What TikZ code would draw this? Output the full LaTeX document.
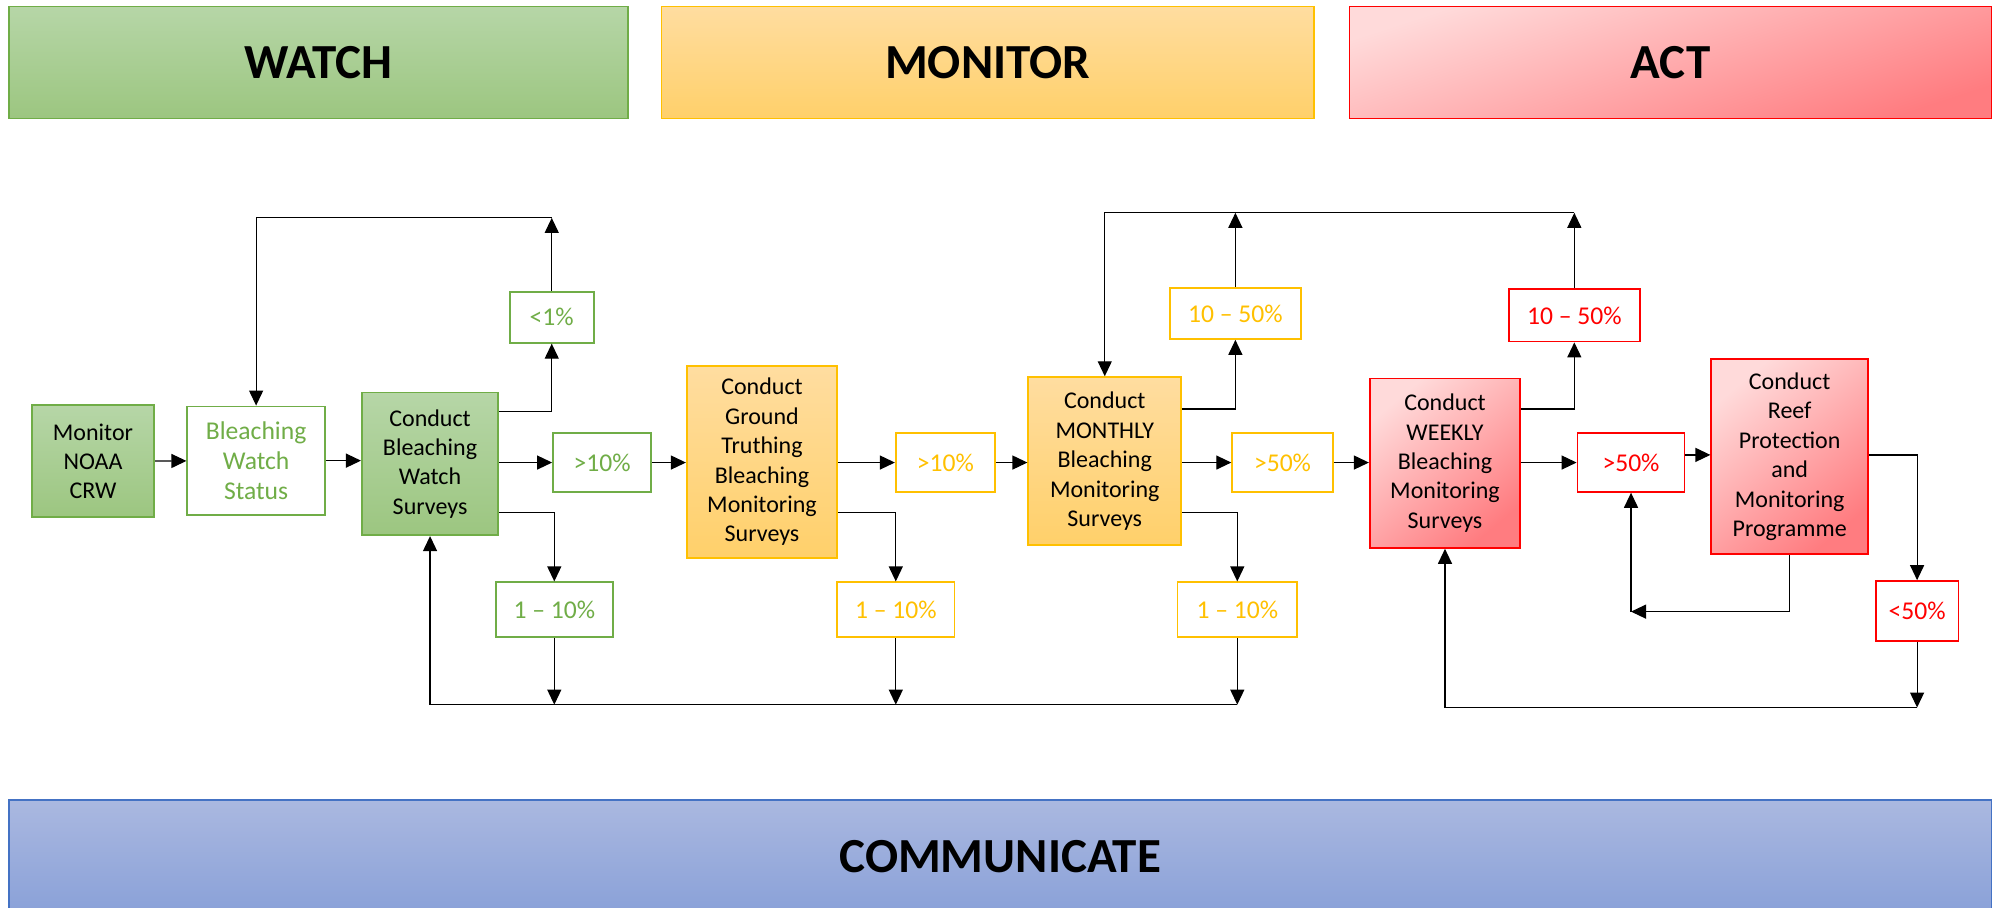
\documentclass[tikz,border=0pt]{standalone}
\usepackage{fontspec}
\setmainfont{Carlito}
\usetikzlibrary{arrows.meta}
\definecolor{gD}{HTML}{70AD47}
\definecolor{gT}{HTML}{B6D6A7}
\definecolor{gB}{HTML}{9CC680}
\definecolor{yD}{HTML}{FFC000}
\definecolor{yT}{HTML}{FFDDA0}
\definecolor{yB}{HTML}{FFD06A}
\definecolor{rD}{HTML}{FF0000}
\definecolor{rT}{HTML}{FFDADA}
\definecolor{rB}{HTML}{FF7C80}
\definecolor{bD}{HTML}{4472C4}
\definecolor{bT}{HTML}{AAB8E0}
\definecolor{bB}{HTML}{8AA1D8}
\begin{document}
\begin{tikzpicture}[x=0.6371pt,y=-0.6371pt,
  every node/.style={inner sep=0pt,align=center,font=\fontsize{12}{14.7}\selectfont},
  rect/.style n args={4}{minimum width={(#3-#1)*0.6371pt},minimum height={(#4-#2)*0.6371pt},
     at={({(#1+#3)/2},{(#2+#4)/2})}},
  header/.style={draw,line width=0.8pt,font=\fontsize{24.5}{28}\selectfont\bfseries},
  gbox/.style={draw=gD,line width=0.9pt,top color=gT,bottom color=gB},
  tag/.style={line width=0.9pt,fill=white,font=\fontsize{12.8}{15}\selectfont},
  gtag/.style={tag,draw=gD,text=gD},
  ybox/.style={draw=yD,line width=0.9pt,top color=yT,bottom color=yB},
  ytag/.style={tag,draw=yD,text=yD},
  rbox/.style={draw=rD,line width=0.9pt,top color=rT,bottom color=rB,shading angle=40},
  rtag/.style={tag,draw=rD,text=rD},
  arr/.style={draw,line width=0.6pt,-{Triangle[length=7.5pt,width=7pt]}}
]
\useasboundingbox (0,0) rectangle (1568,712);
% headers
\node[header,draw=gD,top color=gT,bottom color=gB,rect={7}{5}{493}{93}] (watch) {WATCH};
\node[header,draw=yD,top color=yT,bottom color=yB,rect={519}{5}{1031}{93}] (monitor) {MONITOR};
\node[header,draw=rD,top color=rT,bottom color=rB,shading angle=18,rect={1059}{5}{1563}{93}] (act) {ACT};
\node[header,draw=bD,top color=bT,bottom color=bB,rect={7}{628}{1563}{716}] (comm) {COMMUNICATE};
% nodes
\node[gbox,rect={25}{318}{121}{406}] (noaa) {Monitor\\NOAA\\CRW};
\node[gtag,rect={147}{319}{255}{404}] (bws) {Bleaching\\Watch\\Status};
\node[gbox,rect={284}{308}{391}{420}] (cbws) {Conduct\\Bleaching\\Watch\\Surveys};
\node[gtag,rect={400}{229}{466}{269}] (lt1) {<1\%};
\node[gtag,rect={434}{340}{511}{386}] (g10) {>10\%};
\node[gtag,rect={389}{457}{481}{500}] (g110) {1 -- 10\%};
\node[ybox,rect={539}{287}{657}{438}] (cgt) {Conduct\\Ground\\Truthing\\Bleaching\\Monitoring\\Surveys};
\node[ytag,rect={703}{340}{781}{386}] (y10) {>10\%};
\node[ytag,rect={657}{457}{749}{500}] (y110a) {1 -- 10\%};
\node[ybox,rect={807}{296}{927}{428}] (cmon) {Conduct\\MONTHLY\\Bleaching\\Monitoring\\Surveys};
\node[ytag,rect={918}{226}{1021}{266}] (y1050) {10 -- 50\%};
\node[ytag,rect={967}{340}{1046}{386}] (y50) {>50\%};
\node[ytag,rect={924}{457}{1018}{500}] (y110b) {1 -- 10\%};
\node[rbox,rect={1075}{297}{1193}{430}] (cwk) {Conduct\\WEEKLY\\Bleaching\\Monitoring\\Surveys};
\node[rtag,rect={1184}{227}{1287}{268}] (r1050) {10 -- 50\%};
\node[rtag,rect={1238}{340}{1322}{386}] (r50) {>50\%};
\node[rbox,rect={1343}{282}{1466}{435}] (crf) {Conduct\\Reef\\Protection\\and\\Monitoring\\Programme};
\node[rtag,rect={1472}{456}{1537}{503}] (rlt50) {<50\%};
% free-end coordinates
\coordinate (t1R) at (lt1.north |- 0,171);
\coordinate (b1L) at (cbws.south |- 0,553);
\coordinate (b1R) at (y110b.south |- 0,553);
\coordinate (t2L) at (cmon.north |- 0,167);
\coordinate (t2R) at (r1050.north |- 0,167);
\coordinate (b2L) at (cwk.south |- 0,555.25);
\coordinate (b2R) at (rlt50.south |- 0,555.25);
\coordinate (rl) at (r50.south |- 0,480);
% watch connectors
\draw[arr] (noaa) -- (bws);
\draw[arr] (bws) -- (cbws.west |- bws);
\draw[arr] (cbws.east |- 0,323) -| (lt1.south);
\draw[arr] (lt1.north) -- (t1R);
\draw[arr] (t1R) -| (bws.north);
\draw[arr] (cbws.east |- g10) -- (g10.west);
\draw[arr] (g10.east) -- (cgt.west |- g10);
\draw[arr] (cbws.east |- 0,402) -| (g110.north);
\draw[arr] (g110.south) -- (g110.south |- b1L);
\draw[arr] (b1R) -- (b1L) -- (cbws.south);
% monitor connectors
\draw[arr] (cgt.east |- y10) -- (y10.west);
\draw[arr] (cgt.east |- 0,402) -| (y110a.north);
\draw[arr] (y110a.south) -- (y110a.south |- b1L);
\draw[arr] (y10.east) -- (cmon.west |- y10);
\draw[arr] (cmon.east |- 0,321) -| (y1050.south);
\draw[arr] (y1050.north) -- (y1050.north |- t2L);
\draw[arr] (t2R) -- (t2L) -- (cmon.north);
\draw[arr] (cmon.east |- y50) -- (y50.west);
\draw[arr] (cmon.east |- 0,402) -| (y110b.north);
\draw[arr] (y110b.south) -- (b1R);
\draw[arr] (y50.east) -- (cwk.west |- y50);
% act connectors
\draw[arr] (cwk.east |- 0,321) -| (r1050.south);
\draw[arr] (r1050.north) -- (t2R);
\draw[arr] (cwk.east |- r50) -- (r50.west);
\draw[arr] (r50.east |- 0,357) -- (crf.west |- 0,357);
\draw[arr] (crf.south) |- (rl);
\draw[arr] (rl) -- (r50.south);
\draw[arr] (crf.east |- 0,357) -| (rlt50.north);
\draw[arr] (rlt50.south) -- (b2R);
\draw[arr] (b2R) -- (b2L) -- (cwk.south);
\end{tikzpicture}
\end{document}
